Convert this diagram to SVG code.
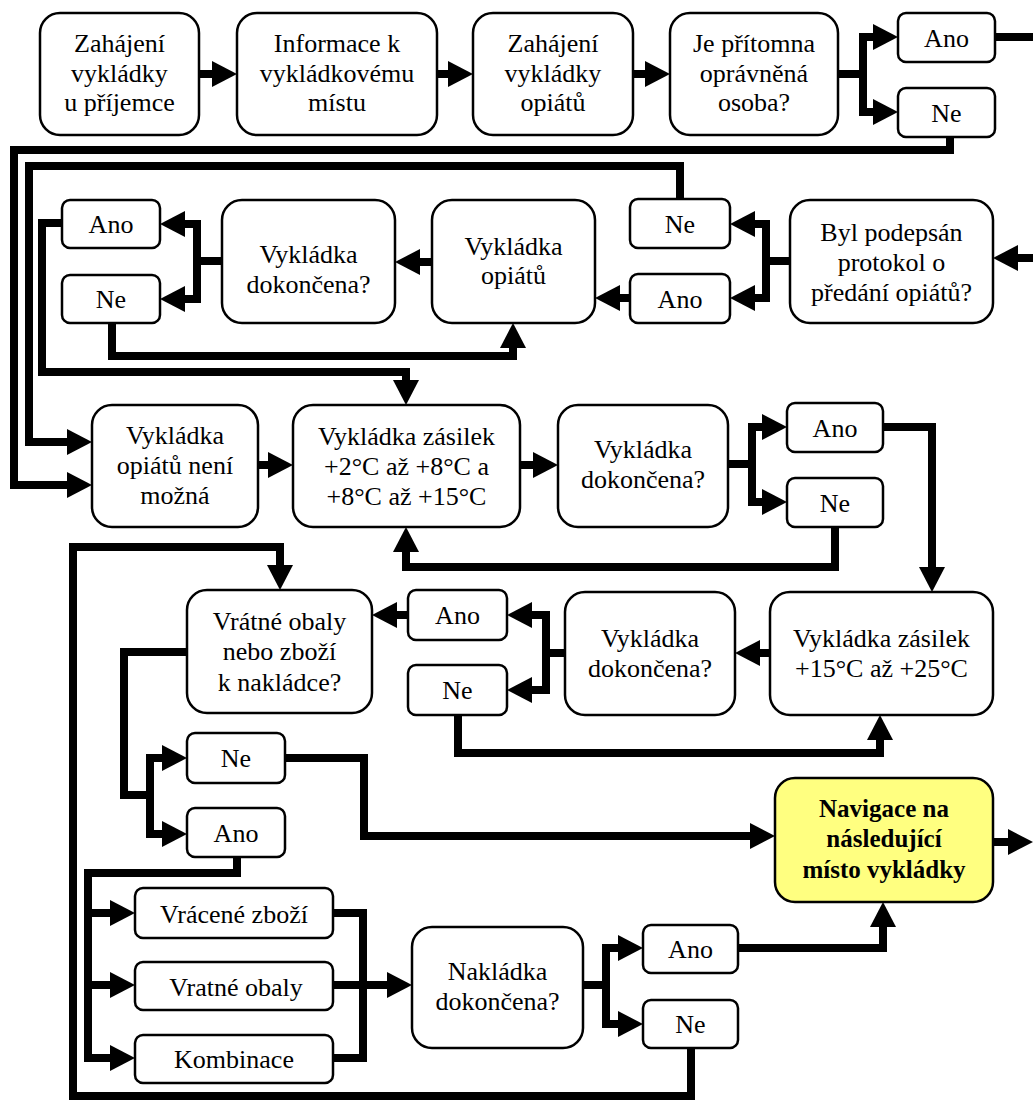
<svg xmlns="http://www.w3.org/2000/svg" width="1033" height="1102" viewBox="0 0 1033 1102">
  <defs>
    <marker id="ah" markerUnits="userSpaceOnUse" markerWidth="25" markerHeight="26" refX="0" refY="13" orient="auto">
      <path d="M0,0 L25,13 L0,26 z" fill="#000"/>
    </marker>
    <style>
      .box { fill: #fff; stroke: #000; stroke-width: 2.5; }
      .hl { fill: #ffff80; }
      .t { font-family: "Liberation Serif", "Times New Roman", serif; font-size: 26px; text-anchor: middle; fill: #000; }
      .b { font-weight: bold; font-size: 25px; }
      .wire { fill: none; stroke: #000; stroke-width: 8; stroke-linejoin: miter; }
      .arr { marker-end: url(#ah); }
    </style>
  </defs>
  <rect width="1033" height="1102" fill="#fff"/>

  <!-- connectors -->
  <g id="connectors">
    <path class="wire arr" d="M199,74 H212"/>
    <path class="wire arr" d="M437,74 H448"/>
    <path class="wire arr" d="M633,74 H645"/>
    <path class="wire arr" d="M838,74 H863 V37 H873"/>
    <path class="wire arr" d="M863,74 V112 H873"/>
    <path class="wire" d="M995,37 H1033"/>
    <path class="wire arr" d="M950,137 V150 H14 V485 H67"/>
    <path class="wire arr" d="M680,199 V166 H29 V442 H67"/>
    <path class="wire arr" d="M1033,258 H1018"/>
    <path class="wire arr" d="M790,261 H766 V224 H755"/>
    <path class="wire arr" d="M766,261 V298 H755"/>
    <path class="wire arr" d="M630,298 H620"/>
    <path class="wire arr" d="M432,262 H420"/>
    <path class="wire arr" d="M222,261 H197 V224 H185"/>
    <path class="wire arr" d="M197,261 V299 H185"/>
    <path class="wire arr" d="M62,223 H42 V372 H406 V380"/>
    <path class="wire arr" d="M112,323 V356 H513 V348"/>
    <path class="wire arr" d="M258,465 H268"/>
    <path class="wire arr" d="M520,465 H533"/>
    <path class="wire arr" d="M728,464 H752 V427 H762"/>
    <path class="wire arr" d="M752,464 V502 H762"/>
    <path class="wire arr" d="M883,427 H932 V567"/>
    <path class="wire arr" d="M835,527 V567 H406 V552"/>
    <path class="wire arr" d="M770,653 H760"/>
    <path class="wire arr" d="M565,653 H546 V615 H532"/>
    <path class="wire arr" d="M546,653 V690 H532"/>
    <path class="wire arr" d="M408,615 H397"/>
    <path class="wire arr" d="M458,715 V753 H880 V740"/>
    <path class="wire arr" d="M187,652 H124 V795 H150 V758 H162"/>
    <path class="wire arr" d="M150,795 V834 H162"/>
    <path class="wire arr" d="M285,758 H364 V836 H750"/>
    <path class="wire arr" d="M993,842 H1008"/>
    <path class="wire arr" d="M237,857 V873 H88 V1058 H110"/>
    <path class="wire arr" d="M88,913 H110"/>
    <path class="wire arr" d="M88,985 H110"/>
    <path class="wire" d="M333,913 H363 V1058 H333"/>
    <path class="wire arr" d="M333,985 H387"/>
    <path class="wire arr" d="M583,985 H606 V948 H618"/>
    <path class="wire arr" d="M606,985 V1024 H618"/>
    <path class="wire arr" d="M738,948 H883 V927"/>
    <path class="wire arr" d="M691,1048 V1096 H73 V547 H280 V565"/>
  </g>

  <!-- row 1 -->
  <g id="start">
    <rect class="box" x="40" y="13" width="159" height="122" rx="20"/>
    <text class="t" x="119.5" y="52">Zahájení</text>
    <text class="t" x="119.5" y="82">vykládky</text>
    <text class="t" x="119.5" y="111">u příjemce</text>
  </g>
  <g id="info">
    <rect class="box" x="237" y="13" width="200" height="122" rx="20"/>
    <text class="t" x="337" y="52">Informace k</text>
    <text class="t" x="337" y="82">vykládkovému</text>
    <text class="t" x="337" y="111">místu</text>
  </g>
  <g id="start-opiates">
    <rect class="box" x="473" y="13" width="160" height="122" rx="20"/>
    <text class="t" x="553" y="52">Zahájení</text>
    <text class="t" x="553" y="82">vykládky</text>
    <text class="t" x="553" y="111">opiátů</text>
  </g>
  <g id="person-present">
    <rect class="box" x="670" y="13" width="168" height="122" rx="20"/>
    <text class="t" x="754" y="52">Je přítomna</text>
    <text class="t" x="754" y="82">oprávněná</text>
    <text class="t" x="754" y="111">osoba?</text>
  </g>
  <g id="person-yes">
    <rect class="box" x="898" y="13" width="97" height="49" rx="8"/>
    <text class="t" x="946.5" y="47">Ano</text>
  </g>
  <g id="person-no">
    <rect class="box" x="898" y="88" width="97" height="49" rx="8"/>
    <text class="t" x="946.5" y="122">Ne</text>
  </g>

  <!-- row 2 -->
  <g id="protocol">
    <rect class="box" x="790" y="200" width="203" height="123" rx="20"/>
    <text class="t" x="891.5" y="241">Byl podepsán</text>
    <text class="t" x="891.5" y="271">protokol o</text>
    <text class="t" x="891.5" y="301">předání opiátů?</text>
  </g>
  <g id="protocol-no">
    <rect class="box" x="630" y="199" width="100" height="49" rx="8"/>
    <text class="t" x="680" y="233">Ne</text>
  </g>
  <g id="protocol-yes">
    <rect class="box" x="630" y="274" width="100" height="49" rx="8"/>
    <text class="t" x="680" y="308">Ano</text>
  </g>
  <g id="unload-opiates">
    <rect class="box" x="432" y="200" width="163" height="123" rx="20"/>
    <text class="t" x="513.5" y="255">Vykládka</text>
    <text class="t" x="513.5" y="284">opiátů</text>
  </g>
  <g id="opiates-done">
    <rect class="box" x="222" y="200" width="173" height="123" rx="20"/>
    <text class="t" x="308.5" y="263">Vykládka</text>
    <text class="t" x="308.5" y="293">dokončena?</text>
  </g>
  <g id="opiates-done-yes">
    <rect class="box" x="62" y="200" width="98" height="48" rx="8"/>
    <text class="t" x="111" y="233">Ano</text>
  </g>
  <g id="opiates-done-no">
    <rect class="box" x="62" y="275" width="98" height="48" rx="8"/>
    <text class="t" x="111" y="308">Ne</text>
  </g>

  <!-- row 3 -->
  <g id="opiates-impossible">
    <rect class="box" x="92" y="405" width="166" height="122" rx="20"/>
    <text class="t" x="175" y="444">Vykládka</text>
    <text class="t" x="175" y="474">opiátů není</text>
    <text class="t" x="175" y="504">možná</text>
  </g>
  <g id="unload-2-15">
    <rect class="box" x="293" y="405" width="227" height="122" rx="20"/>
    <text class="t" x="406.5" y="445">Vykládka zásilek</text>
    <text class="t" x="406.5" y="475">+2°C až +8°C a</text>
    <text class="t" x="406.5" y="505">+8°C až +15°C</text>
  </g>
  <g id="done-2-15">
    <rect class="box" x="558" y="405" width="170" height="122" rx="20"/>
    <text class="t" x="643" y="458">Vykládka</text>
    <text class="t" x="643" y="488">dokončena?</text>
  </g>
  <g id="done-2-15-yes">
    <rect class="box" x="787" y="403" width="96" height="49" rx="8"/>
    <text class="t" x="835" y="437">Ano</text>
  </g>
  <g id="done-2-15-no">
    <rect class="box" x="787" y="478" width="96" height="49" rx="8"/>
    <text class="t" x="835" y="512">Ne</text>
  </g>

  <!-- row 4 -->
  <g id="unload-15-25">
    <rect class="box" x="770" y="592" width="223" height="123" rx="20"/>
    <text class="t" x="881.5" y="647">Vykládka zásilek</text>
    <text class="t" x="881.5" y="677">+15°C až +25°C</text>
  </g>
  <g id="done-15-25">
    <rect class="box" x="565" y="592" width="170" height="123" rx="20"/>
    <text class="t" x="650" y="647">Vykládka</text>
    <text class="t" x="650" y="677">dokončena?</text>
  </g>
  <g id="done-15-25-yes">
    <rect class="box" x="408" y="590" width="99" height="50" rx="8"/>
    <text class="t" x="457.5" y="624">Ano</text>
  </g>
  <g id="done-15-25-no">
    <rect class="box" x="408" y="665" width="99" height="50" rx="8"/>
    <text class="t" x="457.5" y="699">Ne</text>
  </g>
  <g id="returns-question">
    <rect class="box" x="187" y="590" width="185" height="123" rx="20"/>
    <text class="t" x="279.5" y="630">Vrátné obaly</text>
    <text class="t" x="279.5" y="660">nebo zboží</text>
    <text class="t" x="279.5" y="691">k nakládce?</text>
  </g>

  <!-- row 5 -->
  <g id="returns-no">
    <rect class="box" x="187" y="733" width="98" height="50" rx="8"/>
    <text class="t" x="236" y="767">Ne</text>
  </g>
  <g id="returns-yes">
    <rect class="box" x="187" y="808" width="98" height="49" rx="8"/>
    <text class="t" x="236" y="842">Ano</text>
  </g>
  <g id="navigate-next">
    <rect class="box hl" x="775" y="778" width="218" height="124" rx="20"/>
    <text class="t b" x="884" y="817">Navigace na</text>
    <text class="t b" x="884" y="847">následující</text>
    <text class="t b" x="884" y="878">místo vykládky</text>
  </g>

  <!-- row 6 -->
  <g id="returned-goods">
    <rect class="box" x="135" y="888" width="198" height="50" rx="8"/>
    <text class="t" x="234" y="923">Vrácené zboží</text>
  </g>
  <g id="returnable-packaging">
    <rect class="box" x="135" y="962" width="198" height="48" rx="8"/>
    <text class="t" x="236" y="996">Vratné obaly</text>
  </g>
  <g id="combination">
    <rect class="box" x="135" y="1035" width="198" height="48" rx="8"/>
    <text class="t" x="234" y="1068">Kombinace</text>
  </g>
  <g id="loading-done">
    <rect class="box" x="412" y="927" width="171" height="121" rx="20"/>
    <text class="t" x="497.5" y="980">Nakládka</text>
    <text class="t" x="497.5" y="1010">dokončena?</text>
  </g>
  <g id="loading-done-yes">
    <rect class="box" x="643" y="925" width="95" height="48" rx="8"/>
    <text class="t" x="690.5" y="958">Ano</text>
  </g>
  <g id="loading-done-no">
    <rect class="box" x="643" y="1000" width="95" height="48" rx="8"/>
    <text class="t" x="690.5" y="1033">Ne</text>
  </g>
</svg>
